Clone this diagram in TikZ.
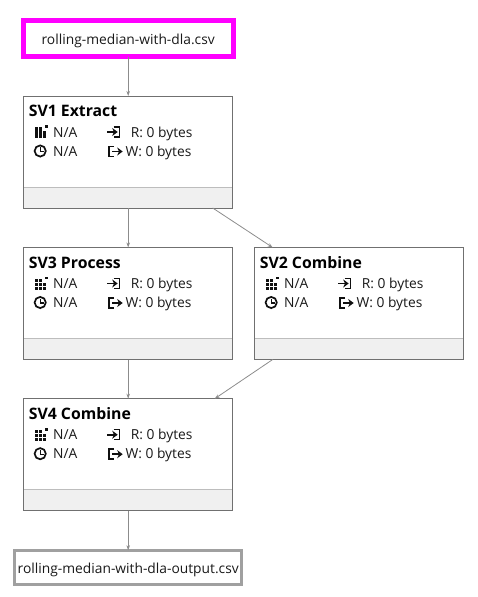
\documentclass[tikz,border=0pt]{standalone}
\usepackage{fontspec}
\setmainfont{Open Sans}
\definecolor{edgegrey}{HTML}{8C8C8C}
\definecolor{boxgrey}{HTML}{707070}
\definecolor{footgrey}{HTML}{F0F0F0}
\definecolor{footline}{HTML}{BDBDBD}
\definecolor{outgrey}{HTML}{A0A0A0}
\definecolor{inmagenta}{HTML}{FF00FF}
\definecolor{icondark}{HTML}{101010}
\usetikzlibrary{arrows.meta}
\tikzset{
  flow/.style={draw=edgegrey, line width=0.8pt, -{Stealth[length=5pt,width=3.5pt]}},
  svbox/.style={rectangle, draw=boxgrey, fill=white, line width=1pt, outer sep=0pt, minimum width=209pt, minimum height=112pt},
  svfoot/.style={rectangle, fill=footgrey, inner sep=0pt, outer sep=0pt, minimum width=208pt, minimum height=20.5pt},
  svtitle/.style={anchor=base west, inner sep=0pt, font=\fontsize{15.8}{18}\selectfont\bfseries},
  svtext/.style={anchor=base west, inner sep=0pt, text=black!90, font=\fontsize{13.8}{16}\selectfont},
  filetext/.style={font=\fontsize{13.8}{16}\selectfont, text=black!90, inner sep=0pt, outer sep=0pt, text height=12pt, text depth=0pt},
  infile/.style={filetext, rectangle, draw=inmagenta, line width=5pt, minimum width=210pt, minimum height=36pt},
  outfile/.style={filetext, rectangle, draw=outgrey, line width=3pt, minimum width=227pt, minimum height=34.5pt},
  pics/gridicon/.style={code={
    \foreach \i/\j in {0/0,1/0,0/1,1/1,2/1,0/2,1/2,2/2}
      \fill[icondark] (\i*4,2.4+\j*3.8) rectangle ++(3.4,3.3);
    \fill[icondark] (9.8,0) rectangle (12.8,2.8);
  }},
  pics/clockicon/.style={code={
    \draw[icondark, line width=1.7pt] (0,0) circle (5.6);
    \draw[icondark, line width=1.4pt] (0,-3.6) -- (0,0.5) -- (3.4,0.5);
  }},
  pics/inicon/.style={code={
    \draw[icondark, line width=1.5pt] (6.5,0) -- (12.5,0) -- (12.5,10) -- (6.5,10);
    \draw[icondark, line width=1.8pt, -{Stealth[length=5.5pt,width=8pt]}] (0,5) -- (10.5,5);
  }},
  pics/outicon/.style={code={
    \draw[icondark, line width=1.5pt] (6,0.5) -- (0.7,0.5) -- (0.7,10.5) -- (6,10.5);
    \draw[icondark, line width=1.8pt, -{Stealth[length=5.5pt,width=8pt]}] (4,5.5) -- (14.5,5.5);
  }},
}
% box with title, stats and footer, placed by its top left corner
\newcommand{\svnode}[4]{
  \begin{scope}[shift={(#2,#3)}]
    \node[svbox] (#1) at (104.5,56) {};
    \node[svfoot, anchor=south] (#1-foot) at (104.5,111.5) {};
    \draw[footline, line width=1pt] (#1-foot.north west) -- (#1-foot.north east);
    \node[svtitle] (#1-title) at (5,20.7) {#4};
    \pic at (11.3,29) {gridicon};
    \node[svtext] (#1-load) at (29.3,41) {N/A};
    \pic at (16.5,55) {clockicon};
    \node[svtext] (#1-time) at (29.3,60) {N/A};
    \pic at (83.5,31) {inicon};
    \node[svtext] (#1-read) at (107,41) {R: 0 bytes};
    \pic at (84.5,50) {outicon};
    \node[svtext] (#1-write) at (101.6,60) {W: 0 bytes};
  \end{scope}
}

\begin{document}
\begin{tikzpicture}[x=1pt, y=-1pt]
\useasboundingbox (0,0) rectangle (478,597);
%
% --- Files ---
\node[infile] (input) at (128.2,38.5) {rolling-median-with-dla.csv};
\node[outfile] (output) at (128.2,567.5) {rolling-median-with-dla-output.csv};
%
% --- Stages ---
\svnode{sv1}{23.7}{96}{SV1 Extract}
\svnode{sv3}{23.7}{247.5}{SV3 Process}
\svnode{sv2}{254.7}{247.5}{SV2 Combine}
\svnode{sv4}{23.7}{398.7}{SV4 Combine}
%
% --- Edges ---
\draw[flow] (input.south) -- (sv1.north);
\draw[flow] (sv1.south) -- (sv3.north);
\draw[flow] ([xshift=-20pt]sv1.south east) -- ([xshift=18pt]sv2.north west);
\draw[flow] (sv3.south) -- (sv4.north);
\draw[flow] ([xshift=18pt]sv2.south west) -- ([xshift=-18pt]sv4.north east);
\draw[flow] (sv4.south) -- (output.north);
%
\end{tikzpicture}
\end{document}
